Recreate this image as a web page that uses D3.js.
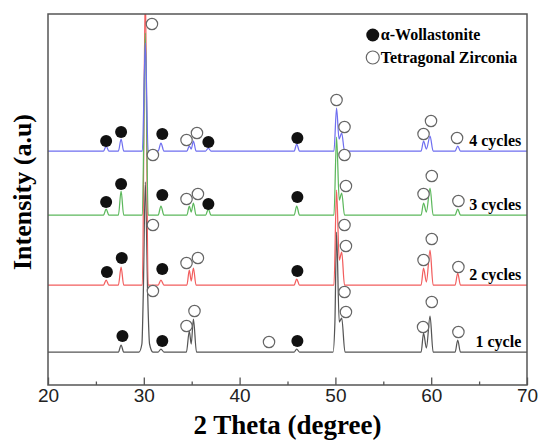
<!DOCTYPE html>
<html>
<head>
<meta charset="utf-8">
<script src="https://cdn.jsdelivr.net/npm/d3@7/dist/d3.min.js"></script>
<style>
  body { margin: 0; background: #fff; }
  svg { display: block; }
</style>
</head>
<body>
<div class="chart"></div>
<script>
const width = 544;
const height = 440;
const margin = { top: 14, right: 17, bottom: 55, left: 48 };

// series, bottom to top
const sampleNames = ['1 cycle', '2 cycles', '3 cycles', '4 cycles'];
const sampleColors = ['#555555', '#f25e5e', '#5cb85c', '#6f6ff0'];
const sampleOffsets = [33, 100, 170, 234];

// [2theta, intensity above own baseline]
const cycle1 = [[20,0],[27.35,0],[27.63,7],[27.9,0],[29.5,0],[29.8,8],[29.95,60],[30.16,170],[30.4,60],[30.6,8],[30.95,0],
  [31.5,0],[31.79,3],[32.1,0],[34.45,0],[34.75,21],[34.95,8],[35.18,33],[35.5,0],[45.7,0],[45.96,3],[46.25,0],
  [49.75,0],[49.95,30],[50.12,120],[50.4,30],[50.66,34],[51.0,0],[58.95,0],[59.2,19],[59.5,4],[59.88,36],[60.2,0],
  [62.5,0],[62.77,12],[63.05,0],[70,0]];
const cycle2 = [[20,0],[25.8,0],[26.07,5],[26.35,0],[27.35,0],[27.63,18],[27.9,0],[29.85,0],[30.16,300],[30.45,0],
  [31.5,0],[31.79,5],[32.1,0],[34.5,0],[34.75,15],[34.95,4],[35.18,17],[35.45,0],[45.7,0],[45.96,6],[46.25,0],
  [49.85,0],[50.12,95],[50.4,25],[50.66,33],[50.95,0],[58.95,0],[59.2,17],[59.5,3],[59.88,35],[60.2,0],
  [62.5,0],[62.77,12],[63.05,0],[70,0]];
const cycle3 = [[20,0],[25.8,0],[26.07,6],[26.35,0],[27.35,0],[27.63,24],[27.9,0],[29.85,0],[30.16,182],[30.45,0],
  [31.5,0],[31.79,9],[32.1,0],[34.5,0],[34.75,9],[34.95,3],[35.18,12],[35.45,0],[36.45,0],[36.74,6],[37.0,0],
  [45.7,0],[45.96,9],[46.25,0],[49.85,0],[50.12,78],[50.4,15],[50.66,22],[50.95,0],[58.95,0],[59.2,12],[59.5,3],
  [59.88,27],[60.2,0],[62.5,0],[62.77,6],[63.05,0],[70,0]];
const cycle4 = [[20,0],[25.8,0],[26.07,5],[26.35,0],[27.35,0],[27.63,12],[27.9,0],[29.85,0],[30.16,108],[30.45,0],
  [31.5,0],[31.79,8],[32.1,0],[34.5,0],[34.75,5],[34.95,2],[35.18,10],[35.45,0],[36.45,0],[36.74,3],[37.0,0],
  [45.7,0],[45.96,7],[46.25,0],[49.85,0],[50.12,43],[50.38,12],[50.66,18],[50.95,0],[58.95,0],[59.2,10],[59.5,2],
  [59.88,15],[60.2,0],[62.5,0],[62.77,5],[63.05,0],[70,0]];
const patterns = [cycle1, cycle2, cycle3, cycle4];

// phase markers [2theta, absolute intensity]
const wollastonite = [
  [27.77,49],[31.93,44],[46.03,44],
  [26.15,113],[27.7,127],[31.93,116],[46.03,114],
  [26.07,183],[27.63,201],[31.93,190],[36.74,181],[46.03,188],
  [26.07,244],[27.63,253],[31.93,251],[36.74,243],[46.03,247]];
const zirconia = [
  [30.95,94],[34.46,59],[35.29,74],[43.07,43],[50.95,93],[51.1,73],[59.15,58],[60.06,83],[62.84,53],
  [30.95,160],[34.46,122],[35.65,127],[50.95,160],[51.1,139],[59.2,125],[60.06,146],[62.84,118],
  [30.95,230],[34.46,186],[35.65,191],[50.95,230],[51.1,199],[59.2,191],[60.06,209],[62.84,184],
  [30.85,361],[34.46,245],[35.55,252],[50.12,285],[50.95,258],[59.2,251],[59.98,264],[62.7,247]];

const majorTicks = [20, 30, 40, 50, 60, 70];
const minorTicks = [25, 35, 45, 55, 65];
const legendItems = ['\u03b1-Wollastonite', 'Tetragonal Zirconia'];

const serif = '"Liberation Serif", "Times New Roman", serif';
const sans = '"Liberation Sans", Arial, sans-serif';

const innerW = width - margin.left - margin.right;
const innerH = height - margin.top - margin.bottom;

const svg = d3.select('div.chart').append('svg')
  .attr('width', width)
  .attr('height', height);

const g = svg.append('g')
  .attr('transform', `translate(${margin.left},${margin.top})`);

const scaleX = d3.scaleLinear().domain([20, 70]).range([0, innerW]);
const scaleY = d3.scaleLinear().domain([0, 371]).range([innerH, 0]);

g.append('clipPath').attr('id', 'plot-clip')
  .append('rect').attr('width', innerW).attr('height', innerH);

// patterns
const line = d3.line()
  .x(d => scaleX(d[0]))
  .y(d => scaleY(d[1]))
  .curve(d3.curveMonotoneX);

const traces = g.append('g').attr('clip-path', 'url(#plot-clip)');
patterns.forEach((pts, i) => {
  traces.append('path')
    .datum(pts.map(p => [p[0], p[1] + sampleOffsets[i]]))
    .attr('d', line)
    .attr('fill', 'none')
    .attr('stroke', sampleColors[i])
    .attr('stroke-width', 1.25);
});

// markers
const markers = g.append('g');
markers.selectAll('circle.w')
  .data(wollastonite)
  .enter().append('circle')
  .attr('class', 'w')
  .attr('cx', d => scaleX(d[0]))
  .attr('cy', d => scaleY(d[1]))
  .attr('r', 6)
  .attr('fill', '#111');

markers.selectAll('circle.z')
  .data(zirconia)
  .enter().append('circle')
  .attr('class', 'z')
  .attr('cx', d => scaleX(d[0]))
  .attr('cy', d => scaleY(d[1]))
  .attr('r', 5.7)
  .attr('fill', '#fff')
  .attr('stroke', '#666')
  .attr('stroke-width', 1.2);

// sample labels
g.selectAll('text.sample')
  .data(sampleNames)
  .enter().append('text')
  .attr('class', 'sample')
  .attr('x', scaleX(69.4))
  .attr('y', (d, i) => scaleY(sampleOffsets[i] + 5))
  .attr('text-anchor', 'end')
  .style('font-family', serif)
  .style('font-weight', 'bold')
  .style('font-size', '16px')
  .text(d => d);

// legend
const legend = g.append('g')
  .attr('transform', `translate(${scaleX(53.9)},${scaleY(350)})`);
legendItems.forEach((name, i) => {
  legend.append('circle')
    .attr('cx', 0)
    .attr('cy', i * 22.5)
    .attr('r', 6.5)
    .attr('fill', i === 0 ? '#111' : '#fff')
    .attr('stroke', i === 0 ? 'none' : '#666')
    .attr('stroke-width', 1.2);
  legend.append('text')
    .attr('x', 8)
    .attr('y', i * 22.5 + 5)
    .style('font-family', serif)
    .style('font-weight', 'bold')
    .style('font-size', '16px')
    .text(name);
});

// axes
const xAxis = d3.axisBottom(scaleX)
  .tickValues(majorTicks)
  .tickSizeInner(-7.5)
  .tickSizeOuter(0)
  .tickPadding(4);
const xg = g.append('g')
  .attr('transform', `translate(0,${innerH})`)
  .call(xAxis);
xg.select('.domain').remove();
xg.selectAll('line').attr('stroke', '#555').attr('stroke-width', 1.3);
xg.selectAll('text')
  .style('font-family', sans)
  .style('font-size', '19px')
  .attr('fill', '#222');

const minorAxis = d3.axisBottom(scaleX)
  .tickValues(minorTicks)
  .tickSizeInner(-3.5)
  .tickSizeOuter(0)
  .tickFormat('');
const mg = g.append('g')
  .attr('transform', `translate(0,${innerH})`)
  .call(minorAxis);
mg.select('.domain').remove();
mg.selectAll('line').attr('stroke', '#555').attr('stroke-width', 1.3);

// frame
g.append('rect')
  .attr('width', innerW)
  .attr('height', innerH)
  .attr('fill', 'none')
  .attr('stroke', '#555')
  .attr('stroke-width', 1.5);

// titles
svg.append('text')
  .attr('x', margin.left + innerW / 2)
  .attr('y', 434)
  .attr('text-anchor', 'middle')
  .style('font-family', serif)
  .style('font-weight', 'bold')
  .style('font-size', '27px')
  .text('2 Theta (degree)');

svg.append('text')
  .attr('transform', `translate(31,192) rotate(-90)`)
  .attr('text-anchor', 'middle')
  .style('font-family', serif)
  .style('font-weight', 'bold')
  .style('font-size', '26px')
  .text('Intensity (a.u)');
</script>
</body>
</html>
